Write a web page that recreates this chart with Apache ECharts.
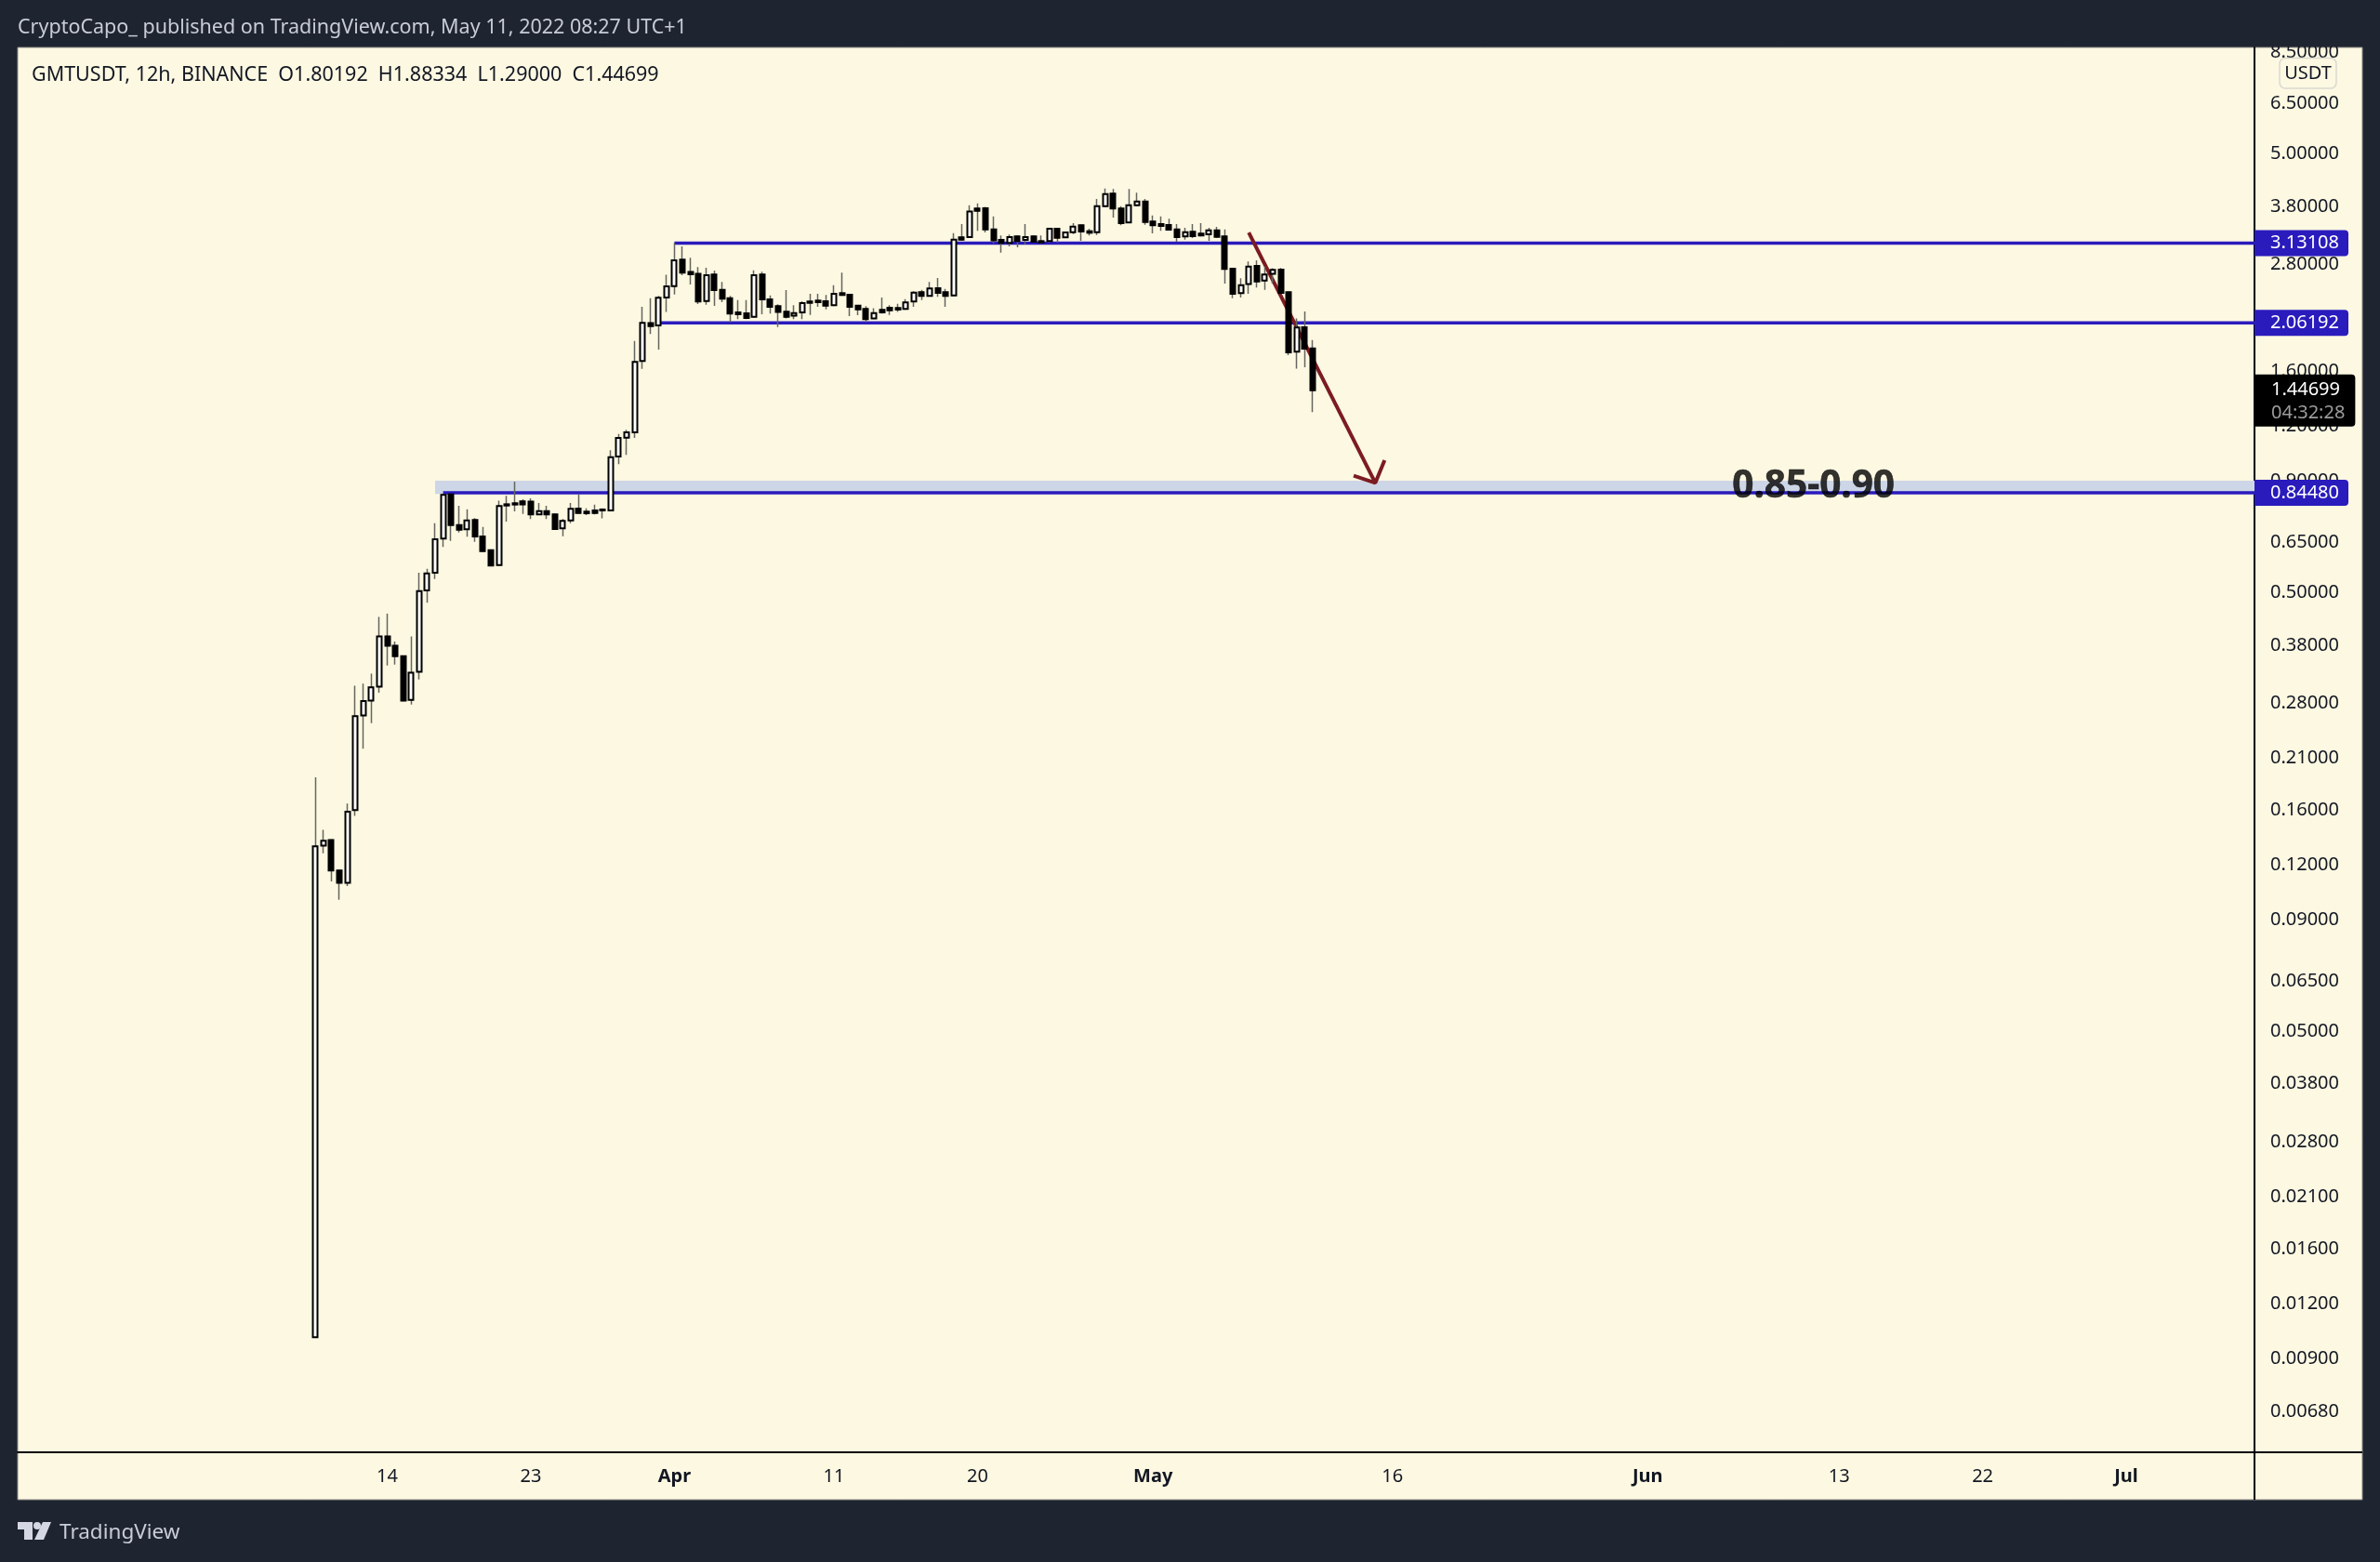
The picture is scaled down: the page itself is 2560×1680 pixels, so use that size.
<!DOCTYPE html>
<html>
<head>
<meta charset="utf-8">
<title>GMTUSDT</title>
<style>
html, body { margin: 0; padding: 0; background: #1f2431; }
#chart { width: 2560px; height: 1680px; }
</style>
</head>
<body>
<div id="chart"></div>
<script src="https://cdn.jsdelivr.net/npm/echarts@6/dist/echarts.min.js"></script>
<script>
// 12h bars, first one opens 2022-03-09 12:00 UTC
var firstBar = Date.UTC(2022, 2, 9, 12);
var barMs = 12 * 3600 * 1000;

var barOpen = [
  0.01006, 0.1327, 0.1366, 0.1164, 0.1091, 0.1599, 0.2627, 0.2841, 0.3056, 0.3978,
  0.3789, 0.3585, 0.2851, 0.3305, 0.5062, 0.5553, 0.6642, 0.8381, 0.7134, 0.6974,
  0.7323, 0.6718, 0.6253, 0.5785, 0.7954, 0.7997, 0.8078, 0.8065, 0.7542, 0.7675,
  0.7542, 0.7009, 0.7311, 0.7777, 0.7653, 0.7701, 0.7739, 0.7701, 1.022, 1.128,
  1.160, 1.687, 2.058, 2.033, 2.354, 2.500, 2.870, 2.690, 2.664, 2.312,
  2.655, 2.451, 2.346, 2.177, 2.167, 2.128, 2.655, 2.331, 2.249, 2.185,
  2.139, 2.177, 2.305, 2.316, 2.308, 2.260, 2.408, 2.388, 2.256, 2.217,
  2.108, 2.206, 2.231, 2.228, 2.217, 2.305, 2.420, 2.373, 2.471, 2.420,
  2.381, 3.226, 3.231, 3.753, 3.760, 3.366, 3.185, 3.134, 3.242, 3.185,
  3.242, 3.164, 3.164, 3.377, 3.226, 3.316, 3.438, 3.333, 3.316, 3.802,
  4.058, 3.753, 3.488, 3.821, 3.896, 3.506, 3.460, 3.443, 3.366, 3.242,
  3.322, 3.290, 3.279, 3.349, 3.242, 2.738, 2.408, 2.525, 2.778, 2.574,
  2.664, 2.725, 2.420, 1.771, 2.014, 1.80192
];
var barHigh = [
  0.1898, 0.1441, 0.1370, 0.1164, 0.1655, 0.3071, 0.3106, 0.3272, 0.4408, 0.4480,
  0.3870, 0.3585, 0.3978, 0.5553, 0.5672, 0.7205, 0.8381, 0.8381, 0.7891, 0.7751,
  0.7397, 0.7065, 0.6253, 0.8111, 0.8312, 0.8960, 0.8161, 0.8205, 0.8010, 0.7891,
  0.7565, 0.7361, 0.8010, 0.8381, 0.7789, 0.7944, 0.7789, 1.056, 1.151, 1.176,
  1.874, 2.242, 2.346, 2.373, 2.651, 3.139, 3.078, 2.899, 2.761, 2.752,
  2.712, 2.553, 2.373, 2.323, 2.323, 2.716, 2.694, 2.381, 2.271, 2.447,
  2.260, 2.308, 2.400, 2.400, 2.385, 2.512, 2.681, 2.392, 2.260, 2.249,
  2.224, 2.354, 2.260, 2.278, 2.335, 2.432, 2.451, 2.553, 2.608, 2.463,
  3.301, 3.460, 3.821, 3.859, 3.789, 3.604, 3.258, 3.274, 3.258, 3.460,
  3.258, 3.258, 3.393, 3.393, 3.322, 3.477, 3.449, 3.377, 3.947, 4.172,
  4.158, 3.802, 4.158, 4.078, 3.947, 3.621, 3.604, 3.557, 3.460, 3.393,
  3.460, 3.477, 3.393, 3.410, 3.366, 2.743, 2.604, 2.842, 2.861, 2.769,
  2.743, 2.747, 2.420, 2.108, 2.188, 1.88334
];
var barLow = [
  0.01006, 0.1274, 0.1100, 0.0999, 0.1073, 0.1551, 0.2207, 0.2523, 0.2959, 0.3414,
  0.3431, 0.2832, 0.2782, 0.3173, 0.4743, 0.5376, 0.6356, 0.6566, 0.6861, 0.6707,
  0.6534, 0.6203, 0.5766, 0.5766, 0.7263, 0.7663, 0.7565, 0.7361, 0.7518, 0.7361,
  0.6974, 0.6729, 0.7205, 0.7588, 0.7518, 0.7542, 0.7385, 0.7688, 0.9815, 1.031,
  1.127, 1.619, 1.943, 1.791, 2.181, 2.392, 2.646, 2.520, 2.275, 2.267,
  2.253, 2.297, 2.067, 2.101, 2.101, 2.125, 2.156, 2.163, 2.017, 2.108,
  2.101, 2.101, 2.149, 2.242, 2.213, 2.249, 2.377, 2.135, 2.145, 2.067,
  2.101, 2.163, 2.149, 2.181, 2.206, 2.242, 2.323, 2.365, 2.361, 2.242,
  2.373, 3.169, 3.221, 3.339, 3.311, 3.128, 2.980, 3.078, 3.063, 3.113,
  3.139, 3.124, 3.144, 3.139, 3.216, 3.284, 3.169, 3.258, 3.269, 3.789,
  3.580, 3.438, 3.477, 3.802, 3.449, 3.295, 3.339, 3.355, 3.154, 3.190,
  3.216, 3.242, 3.169, 3.231, 2.532, 2.346, 2.354, 2.400, 2.479, 2.451,
  2.532, 2.400, 1.740, 1.620, 1.633, 1.29
];
var barClose = [
  0.1322, 0.1361, 0.1164, 0.1091, 0.1586, 0.2618, 0.2832, 0.3046, 0.3978, 0.3789,
  0.3585, 0.2841, 0.3289, 0.5046, 0.5535, 0.6620, 0.8353, 0.7134, 0.6963, 0.7311,
  0.6718, 0.6223, 0.5766, 0.7878, 0.7903, 0.7944, 0.7954, 0.7542, 0.7675, 0.7542,
  0.6986, 0.7289, 0.7764, 0.7600, 0.7588, 0.7600, 0.7701, 1.0186, 1.127, 1.160,
  1.679, 2.060, 2.027, 2.350, 2.496, 2.861, 2.681, 2.659, 2.305, 2.646,
  2.447, 2.339, 2.163, 2.156, 2.115, 2.646, 2.331, 2.242, 2.181, 2.128,
  2.170, 2.286, 2.289, 2.297, 2.256, 2.400, 2.385, 2.242, 2.213, 2.101,
  2.170, 2.177, 2.202, 2.210, 2.293, 2.416, 2.373, 2.467, 2.412, 2.373,
  3.190, 3.190, 3.698, 3.710, 3.366, 3.179, 3.134, 3.231, 3.164, 3.231,
  3.154, 3.144, 3.377, 3.221, 3.311, 3.415, 3.327, 3.306, 3.802, 4.051,
  3.753, 3.477, 3.821, 3.896, 3.500, 3.438, 3.427, 3.361, 3.231, 3.316,
  3.248, 3.258, 3.349, 3.237, 2.734, 2.400, 2.512, 2.769, 2.561, 2.655,
  2.721, 2.412, 1.765, 2.010, 1.800, 1.44699
];

// support levels: price and the bar they start from
var levelPrices = [3.13108, 2.06192, 0.8448];
var levelStart = [45, 43, 16];
var bandTop = 0.90;
var bandBottom = 0.84;
var bandStart = 15;

// arrow, in bar numbers and prices
var arrowBars = [117, 132.87];
var arrowPrices = [3.31, 0.89];
var headBars = [130.15, 132.87, 134.03];
var headPrices = [0.924, 0.89, 1.002];

var priceTicks = [8.5, 6.5, 5, 3.8, 2.8, 1.6, 1.2, 0.9, 0.65, 0.5, 0.38, 0.28, 0.21, 0.16, 0.12, 0.09,
  0.065, 0.05, 0.038, 0.028, 0.021, 0.016, 0.012, 0.009, 0.0068];
var timeTicks = ['2022-03-14', '2022-03-23', '2022-04-01', '2022-04-11', '2022-04-20', '2022-05-01',
  '2022-05-16', '2022-06-01', '2022-06-13', '2022-06-22', '2022-07-01'];
var timeLabels = ['14', '23', 'Apr', '11', '20', 'May', '16', 'Jun', '13', '22', 'Jul'];
var monthLabels = ['Apr', 'May', 'Jun', 'Jul'];

var lastPrice = 1.44699;
var countdown = '04:32:28';

var font = '"Noto Sans", sans-serif';
var ink = '#131722';
var blue = '#2a1bbd';
var red = '#7b1c22';
var cream = '#fdf8e2';

function barTime(i) {
  return firstBar + i * barMs;
}

var xMin = barTime(-37.33);
var xMax = barTime(243.08);

var tickTimes = timeTicks.map(function (d) { return Date.parse(d + 'T00:00:00Z'); });

var wickData = barOpen.map(function (o, i) {
  return [barTime(i), o, barClose[i], barLow[i], barHigh[i]];
});
var bodyData = barOpen.map(function (o, i) {
  return [barTime(i), o, barClose[i], Math.min(o, barClose[i]), Math.max(o, barClose[i])];
});

var series = [];

series.push({
  type: 'candlestick', name: 'wicks', z: 5, barWidth: 2, data: wickData,
  itemStyle: { color: '#66665f', color0: '#66665f', borderColor: '#66665f', borderColor0: '#66665f', borderWidth: 1.5 }
});
series.push({
  type: 'candlestick', name: 'GMTUSDT', z: 6, barWidth: 5.5, data: bodyData,
  itemStyle: { color: '#ffffff', color0: '#000000', borderColor: '#000000', borderColor0: '#000000', borderWidth: 2 }
});

levelPrices.forEach(function (p, i) {
  var s = {
    type: 'line', name: 'level ' + p, z: 3, symbol: 'none', silent: true,
    lineStyle: { color: blue, width: 3.5 },
    data: [[barTime(levelStart[i]), p], [xMax, p]],
    endLabel: {
      show: true, distance: 0, fontFamily: font, fontSize: 20, color: '#ffffff',
      backgroundColor: blue, borderRadius: [0, 4, 4, 0], padding: [6, 10, 2, 17],
      formatter: function () { return p.toFixed(5); }
    }
  };
  if (i === 2) {
    s.markArea = {
      silent: true, z: 1,
      itemStyle: { color: '#cdd6e6' },
      data: [[{ coord: [barTime(bandStart), bandTop] }, { coord: [xMax, bandBottom] }]]
    };
  }
  series.push(s);
});

series.push({
  type: 'line', name: 'arrow', z: 4, symbol: 'none', silent: true,
  lineStyle: { color: red, width: 4 },
  data: arrowBars.map(function (b, i) { return [barTime(b), arrowPrices[i]]; })
});
series.push({
  type: 'line', name: 'arrow head', z: 4, symbol: 'none', silent: true,
  lineStyle: { color: red, width: 4 },
  data: headBars.map(function (b, i) { return [barTime(b), headPrices[i]]; })
});

series.push({
  type: 'line', name: 'last price', z: 8, symbol: 'none', silent: true,
  lineStyle: { opacity: 0 },
  data: [[barTime(125), lastPrice], [xMax, lastPrice]],
  endLabel: {
    show: true, distance: 0, offset: [0, 11], fontFamily: font,
    backgroundColor: '#000000', borderRadius: [0, 4, 4, 0], padding: [4, 11, 2, 18],
    formatter: function () { return '{p|' + lastPrice.toFixed(5) + '}\n{t|' + countdown + '}'; },
    rich: {
      p: { fontFamily: font, fontSize: 20, lineHeight: 25, color: '#ffffff' },
      t: { fontFamily: font, fontSize: 20, lineHeight: 25, color: '#9c9c9c' }
    }
  }
});

series.push({
  type: 'scatter', name: 'zone note', z: 7, symbolSize: 1, silent: true,
  itemStyle: { color: 'transparent' },
  data: [[barTime(187.8), 0.874]],
  label: {
    show: true, position: 'inside', formatter: '0.85-0.90',
    fontFamily: font, fontSize: 40.5, fontWeight: 'bold', color: '#000000',
    textBorderColor: '#000000', textBorderWidth: 0.6
  }
});

var chart = echarts.init(document.getElementById('chart'));
chart.setOption({
  animation: false,
  backgroundColor: '#1f2431',
  grid: { left: 19, right: 135, top: 51, bottom: 118 },
  xAxis: {
    type: 'value', min: xMin, max: xMax,
    axisLine: { onZero: false, lineStyle: { color: '#000000', width: 2 } },
    axisTick: { show: false },
    splitLine: { show: false },
    axisLabel: {
      customValues: tickTimes, margin: 16, fontFamily: font, fontSize: 20, color: ink, hideOverlap: false,
      formatter: function (v) {
        var t = timeLabels[tickTimes.indexOf(v)];
        return monthLabels.indexOf(t) >= 0 ? '{m|' + t + '}' : t;
      },
      rich: { m: { fontFamily: font, fontSize: 20, fontWeight: 'bold', color: ink } }
    }
  },
  yAxis: {
    type: 'log', logBase: 10, position: 'right', min: 0.0055, max: 8.743,
    axisLine: { show: true, lineStyle: { color: '#000000', width: 2 } },
    axisTick: { show: false },
    splitLine: { show: false },
    axisLabel: {
      customValues: priceTicks, margin: 17, padding: [6, 0, 0, 0], fontFamily: font, fontSize: 20, color: ink, showMinLabel: true, showMaxLabel: true,
      formatter: function (v) { return Number(v).toFixed(5); }
    }
  },
  graphic: [
    { type: 'rect', z: -10, silent: true, shape: { x: 19, y: 51, width: 2522, height: 1562 }, style: { fill: cream, stroke: '#8c8c84', lineWidth: 1 } },
    { type: 'line', z: 2, silent: true, shape: { x1: 2425, y1: 1562, x2: 2425, y2: 1613 }, style: { stroke: '#000000', lineWidth: 2 } },
    { type: 'line', z: 2, silent: true, shape: { x1: 2425, y1: 1562, x2: 2541, y2: 1562 }, style: { stroke: '#000000', lineWidth: 2 } },
    { type: 'rect', z: 20, silent: true, shape: { x: 0, y: 0, width: 2560, height: 50 }, style: { fill: '#1f2431' } },
    { type: 'text', z: 21, silent: true, x: 19, y: 30, style: { text: 'CryptoCapo_ published on TradingView.com, May 11, 2022 08:27 UTC+1', fontFamily: font, fontSize: 21.5, fill: '#c8ccd8', verticalAlign: 'middle' } },
    { type: 'text', z: 21, silent: true, x: 34, y: 81, style: { text: 'GMTUSDT, 12h, BINANCE  O1.80192  H1.88334  L1.29000  C1.44699', fontFamily: font, fontSize: 21.5, fill: '#131722', verticalAlign: 'middle' } },
    { type: 'rect', z: 21, silent: true, shape: { x: 2452, y: 62.5, width: 61, height: 32.5, r: 6 }, style: { fill: cream, stroke: '#d9d9d0', lineWidth: 1.5 } },
    { type: 'text', z: 22, silent: true, x: 2482.5, y: 79, style: { text: 'USDT', fontFamily: font, fontSize: 20, fill: '#131722', align: 'center', verticalAlign: 'middle' } },
    // TradingView mark
    { type: 'polygon', z: 21, silent: true, shape: { points: [[19, 1637], [35, 1637], [35, 1656], [26, 1656], [26, 1645], [19, 1645]] }, style: { fill: '#d5d7e2' } },
    { type: 'circle', z: 21, silent: true, shape: { cx: 40, cy: 1641, r: 4 }, style: { fill: '#d5d7e2' } },
    { type: 'polygon', z: 21, silent: true, shape: { points: [[46, 1637], [55, 1637], [47, 1656], [37, 1656]] }, style: { fill: '#d5d7e2' } },
    { type: 'text', z: 21, silent: true, x: 64, y: 1649, style: { text: 'TradingView', fontFamily: font, fontSize: 22.5, fill: '#c8ccd8', verticalAlign: 'middle' } }
  ],
  series: series
});
</script>
</body>
</html>
